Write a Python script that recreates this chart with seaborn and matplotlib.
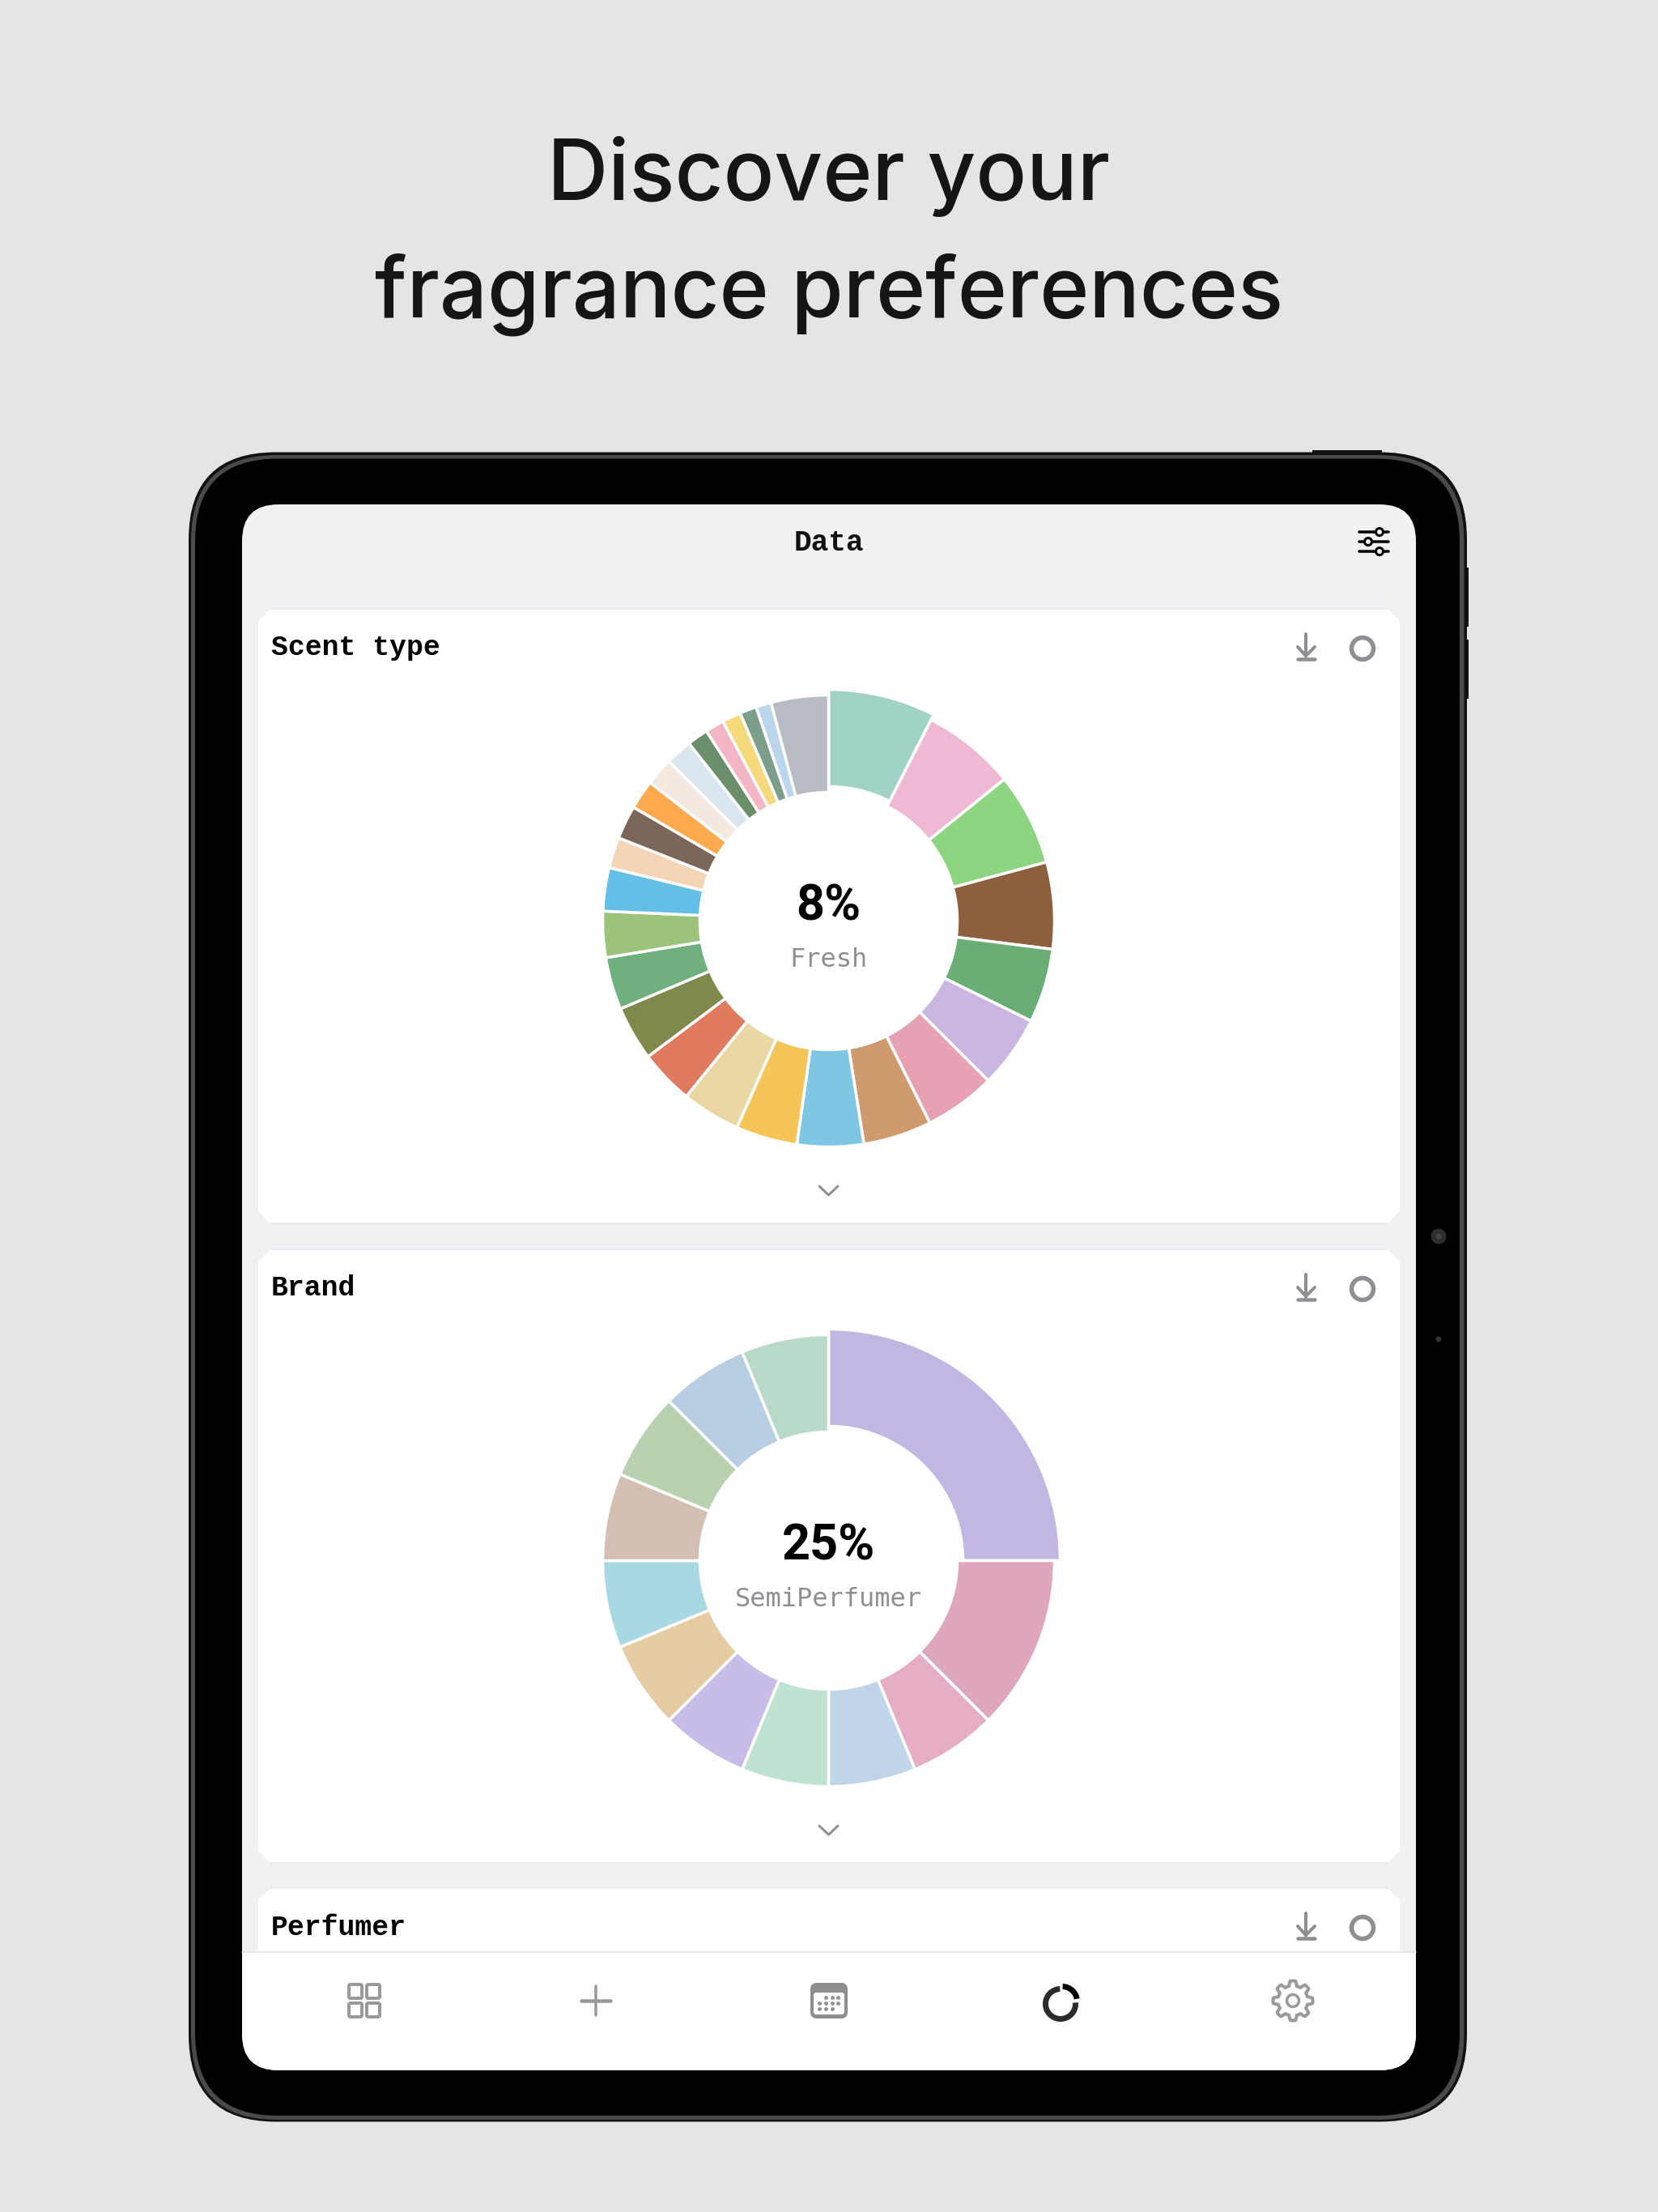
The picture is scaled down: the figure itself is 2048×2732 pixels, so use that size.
import numpy as np
import matplotlib
matplotlib.use('Agg')
import matplotlib.pyplot as plt
from matplotlib.patches import Circle, FancyBboxPatch, Polygon, Rectangle, Wedge
import seaborn as sns

# --- chart values (percent per slice) ---
scent_values = [7.5, 6.7, 6.6, 6.2, 5.3, 5.2, 5.1, 4.9, 4.75, 4.4, 4.2, 3.9, 3.9,
                3.75, 3.3, 3.1, 2.2, 2.4, 2.1, 2.0, 1.9, 1.5, 1.35, 1.35, 1.2, 1.1, 4.1]
scent_colors = ['#a0d2c6', '#efb8d4', '#8dd581', '#8c603e', '#6aae75', '#c9b7e2', '#e6a2b2',
                '#cf9a6e', '#7fc6e3', '#f5c557', '#ead7a4', '#e07b5f', '#7d8a4c', '#70b07f',
                '#9bc47a', '#62bfe6', '#f4d6b7', '#7b6659', '#ffaa4e', '#f3e9e0', '#dae6f0',
                '#6b8e6b', '#f4b6c4', '#f6d97a', '#7b9f8a', '#b9d6ec', '#b6bbc4']
brand_values = [25, 12.5, 6.25, 6.25, 6.25, 6.25, 6.25, 6.25, 6.25, 6.25, 6.25, 6.25]
brand_colors = ['#c2b6e3', '#dfa7be', '#e6aec5', '#c0d5ea', '#c0e2d0', '#c8bde9',
                '#e6cca3', '#a8d9e2', '#d3c0b2', '#b8d2b0', '#b8cee2', '#b9dac8']
card_titles = ['Scent type', 'Brand', 'Perfumer']
title_lines = ['Discover your', 'fragrance preferences']

W, H = 2048, 2732
GRAY = '#8e8e93'
SANS = ['Inter', 'DejaVu Sans']
MONO = ['Liberation Mono', 'DejaVu Sans Mono']


def px(n):
    # line widths are given in pixels of the final image
    return n * 0.72


sns.set_theme(style='white')
fig = plt.figure(figsize=(W / 100, H / 100), dpi=100, facecolor='#e5e5e5')
bg = fig.add_axes([0, 0, 1, 1])
bg.set_xlim(0, W)
bg.set_ylim(H, 0)
bg.axis('off')


def rbox(x0, y0, x1, y1, r, color, z=1):
    p = FancyBboxPatch((x0 + r, y0 + r), x1 - x0 - 2 * r, y1 - y0 - 2 * r,
                       boxstyle=f'round,pad={r},rounding_size={r}', fc=color, ec='none', zorder=z)
    bg.add_patch(p)
    return p


def line(xs, ys, color=GRAY, lw=4, z=6):
    bg.plot(xs, ys, color=color, lw=px(lw), solid_capstyle='round', solid_joinstyle='round', zorder=z)


# --- title ---
bg.text(1024, 218, title_lines[0], ha='center', va='center', fontsize=75, fontweight=500,
        family=SANS, color='#151515')
bg.text(1024, 364, title_lines[1], ha='center', va='center', fontsize=75, fontweight=500,
        family=SANS, color='#151515')

# --- device frame ---
bg.add_patch(Rectangle((1621, 556), 86, 8, fc='#111111', ec='none', zorder=0))
bg.add_patch(Rectangle((1805, 701), 9, 73, fc='#111111', ec='none', zorder=0))
bg.add_patch(Rectangle((1805, 790), 9, 73, fc='#111111', ec='none', zorder=0))
rbox(233, 558.5, 1812, 2620.5, 108, '#111111', 1)
rbox(236, 562, 1808.5, 2618, 106, '#4a4a4a', 1)
rbox(241, 566.5, 1803, 2613, 102, '#000000', 1)
screen = rbox(299, 623, 1749, 2557, 45, '#f1f1f4', 2)
bg.add_patch(Circle((1777, 1527), 9.5, fc='#2e2e2e', ec='none', zorder=2))
bg.add_patch(Circle((1777, 1527), 3.5, fc='#444444', ec='none', zorder=2))
bg.add_patch(Circle((1777, 1654), 3.5, fc='#333333', ec='none', zorder=2))

# --- header ---
bg.text(1024, 671, 'Data', ha='center', va='center', fontsize=26, fontweight='bold', family=MONO, color='#111111')
for y, kx in [(657, 1704), (669, 1690), (681, 1704)]:
    line([1679, 1715], [y, y], color='#000000', lw=3.5)
    bg.add_patch(Circle((kx, y), 4.5, fc='#f1f1f4', ec='#000000', lw=px(3), zorder=7))

# --- cards ---
card_tops = [752, 1543, 2332]
card_bottoms = [1511, 2301, 2440]
c = 15
for top, bottom, name in zip(card_tops, card_bottoms, card_titles):
    card = Polygon([(319 + c, top), (1729 - c, top), (1729, top + c), (1729, bottom - c), (1729 - c, bottom),
                    (319 + c, bottom), (319, bottom - c), (319, top + c)], fc='white', ec='none', zorder=3)
    bg.add_patch(card)
    line([319 + c, 1729 - c], [top, top], color='#e6e6ea', lw=1.5, z=3)
    if bottom < 2400:
        line([319 + c, 1729 - c], [bottom, bottom], color='#e6e6ea', lw=1.5, z=3)
    bg.text(335, top + 48, name, ha='left', va='center', fontsize=25, fontweight='bold', family=MONO, color='#000000')
    # download arrow and round toggle
    line([1613, 1613], [top + 31, top + 59])
    line([1603, 1613, 1624], [top + 47, top + 58, top + 47])
    line([1603, 1624], [top + 62, top + 62], lw=4.5)
    bg.add_patch(Circle((1683, top + 49), 13.5, fc='none', ec=GRAY, lw=px(5.5), zorder=6))
    if bottom < 2400:
        line([1012, 1023.5, 1035], [bottom - 46, bottom - 35, bottom - 46], lw=3)

# --- tab bar ---
tab = Rectangle((299, 2411), 1450, 146, fc='white', ec='none', zorder=4)
bg.add_patch(tab)
tab.set_clip_path(screen)
line([299, 1749], [2411, 2411], color='#e4e4e4', lw=1.5, z=5)

TAB = '#9a9a9a'
for x0, x1 in [(431, 447), (453, 469)]:
    for y0, y1 in [(2451, 2468), (2474, 2491)]:
        sq = FancyBboxPatch((x0 + 2, y0 + 2), x1 - x0 - 4, y1 - y0 - 4, boxstyle='round,pad=2,rounding_size=2',
                            fc='none', ec=TAB, lw=px(4), zorder=6)
        bg.add_patch(sq)
line([718, 754], [2471, 2471], color=TAB, lw=4.5)
line([736, 736], [2453, 2489], color=TAB, lw=3.5)

# calendar
CAL = '#8e8e8e'
bg.add_patch(FancyBboxPatch((1008, 2456), 32, 30, boxstyle='round,pad=7,rounding_size=8', fc=CAL, ec='none', zorder=6))
bg.add_patch(FancyBboxPatch((1005, 2461), 38, 27, boxstyle='round,pad=0,rounding_size=3', fc='white', ec='none', zorder=6))
cal_rows = [(2467, [1020, 1028, 1035]), (2474, [1012, 1020, 1028, 1035]), (2481, [1012, 1020, 1028])]
for row_y, row_x in cal_rows:
    bg.scatter(row_x, [row_y] * len(row_x), s=12, color=CAL, linewidths=0, zorder=7)

# donut tab icon, y axis is flipped here so angles run clockwise
bg.add_patch(Wedge((1310, 2475), 22, -5, 268, width=7, fc='#2b2b2b', ec='none', zorder=6))
bg.add_patch(Wedge((1312, 2472), 22, -88, -10, width=7, fc='#000000', ec='none', zorder=6))

# gear icon
theta = np.linspace(0, 2 * np.pi, 400)
gear_r = 21.5 + 3 * np.clip(2.2 * np.cos(8 * theta), -1, 1)
bg.plot(1597 + gear_r * np.sin(theta), 2471 + gear_r * np.cos(theta), color=TAB, lw=px(4), zorder=6)
bg.add_patch(Circle((1597, 2471), 7.5, fc='none', ec=TAB, lw=px(3.5), zorder=6))


# --- donuts ---
def donut(values, colors, cx, cy, percent, label):
    R, inner = 279, 159
    box = 1.25 * R
    ax = fig.add_axes([(cx - box) / W, 1 - (cy + box) / H, 2 * box / W, 2 * box / H])
    wedges, _ = ax.pie(values, colors=sns.color_palette(colors), startangle=90, counterclock=False, radius=1,
                       wedgeprops=dict(width=(R - inner) / R, edgecolor='white', linewidth=px(3.5)))
    # the selected slice sits a little further out
    wedges[0].set_radius(1 + 7 / R)
    bg.text(cx, cy - 18, percent, ha='center', va='center', fontsize=44, fontweight='bold',
            family=['Roboto', 'DejaVu Sans'], color='#000000')
    bg.text(cx, cy + 48, label, ha='center', va='center', fontsize=23, family='DejaVu Sans Mono', color=GRAY)
    return ax


donut(scent_values, scent_colors, 1023.5, 1137.5, '8%', 'Fresh')
donut(brand_values, brand_colors, 1023.5, 1927.5, '25%', 'SemiPerfumer')

fig.savefig('out.png', dpi=100, facecolor=fig.get_facecolor())
